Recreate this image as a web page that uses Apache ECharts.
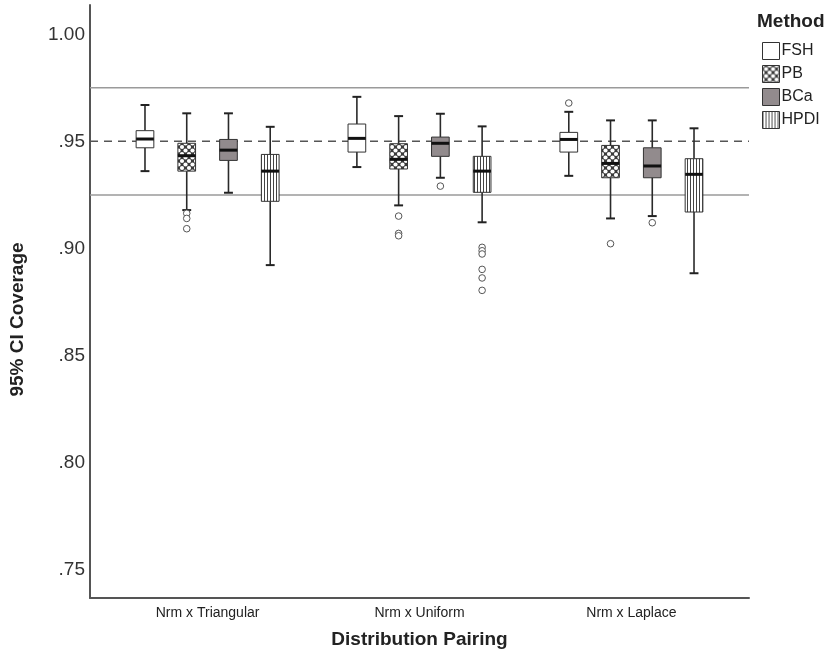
<!DOCTYPE html>
<html><head><meta charset="utf-8">
<script src="https://cdn.jsdelivr.net/npm/echarts@6/dist/echarts.min.js"></script>
<style>html,body{margin:0;padding:0;background:#fff}#c{width:828px;height:657px}</style>
</head><body><div id="c"></div>
<script>
// ---- data ----
const categories = ['Nrm x Triangular', 'Nrm x Uniform', 'Nrm x Laplace'];
const methods = ['FSH', 'PB', 'BCa', 'HPDI'];
const yTicks = [0.75, 0.80, 0.85, 0.90, 0.95, 1.00];
const refLines = [0.975, 0.95, 0.925];
// [min, Q1, median, Q3, max] per category
const statsFSH  = [[0.9361, 0.9470, 0.9511, 0.9550, 0.9670], [0.9380, 0.9450, 0.9514, 0.9581, 0.9708], [0.9339, 0.9450, 0.9509, 0.9542, 0.9638]];
const statsPB   = [[0.9179, 0.9361, 0.9433, 0.9491, 0.9631], [0.9201, 0.9371, 0.9416, 0.9489, 0.9618], [0.9140, 0.9330, 0.9397, 0.9481, 0.9598]];
const statsBCa  = [[0.9260, 0.9411, 0.9459, 0.9509, 0.9631], [0.9330, 0.9430, 0.9491, 0.9520, 0.9629], [0.9151, 0.9330, 0.9385, 0.9470, 0.9598]];
const statsHPDI = [[0.8922, 0.9220, 0.9361, 0.9439, 0.9568], [0.9122, 0.9262, 0.9361, 0.9430, 0.9570], [0.8884, 0.9170, 0.9346, 0.9419, 0.9561]];
// outliers: [categoryIndex, value]
const outFSH  = [[2, 0.9679]];
const outPB   = [[0, 0.9164], [0, 0.9140], [0, 0.9092], [1, 0.9151], [1, 0.9070], [1, 0.9059], [2, 0.9022]];
const outBCa  = [[1, 0.9291], [2, 0.9120]];
const outHPDI = [[1, 0.9005], [1, 0.8989], [1, 0.8974], [1, 0.8902], [1, 0.8862], [1, 0.8804]];

const allStats = [statsFSH, statsPB, statsBCa, statsHPDI];
const allOut = [outFSH, outPB, outBCa, outHPDI];

// ---- patterns ----
function tile(w, h, draw) {
  const c = document.createElement('canvas');
  c.width = w; c.height = h;
  draw(c.getContext('2d'));
  return { image: c, repeat: 'repeat' };
}
const patPB = tile(7, 7, g => {
  g.fillStyle = '#3a3a3a'; g.fillRect(0, 0, 7, 7);
  g.fillStyle = '#ffffff';
  [[0,0],[7,0],[0,7],[7,7],[3.5,3.5]].forEach(p => { g.beginPath(); g.arc(p[0], p[1], 2.1, 0, Math.PI*2); g.fill(); });
});
const patHPDI = tile(3, 4, g => {
  g.fillStyle = '#ffffff'; g.fillRect(0, 0, 3, 4);
  g.fillStyle = '#444'; g.fillRect(0, 0, 1, 4);
});
const fills = ['#ffffff', patPB, '#928b8d', patHPDI];

const FONT = "'Liberation Sans', Arial, sans-serif";

function boxRender(m) {
  return function (params, api) {
    const ci = api.value(0);
    const unit = api.size([1, 0], [ci, 0.9])[0];
    const xc = api.coord([ci, 0.9])[0] + (m - 1.5) * 0.197 * unit;
    const y = k => api.coord([ci, api.value(k)])[1];
    const yMin = y(1), yQ1 = y(2), yMed = y(3), yQ3 = y(4), yMax = y(5);
    const bw = 0.0835 * unit, cw = 0.042 * unit;
    const ws = { stroke: '#2a2a2a', lineWidth: 1.6 };
    return { type: 'group', children: [
      { type: 'line', shape: { x1: xc, y1: yMax, x2: xc, y2: yQ3 }, style: ws },
      { type: 'line', shape: { x1: xc, y1: yQ1, x2: xc, y2: yMin }, style: ws },
      { type: 'line', shape: { x1: xc - cw / 2, y1: yMax, x2: xc + cw / 2, y2: yMax }, style: { stroke: '#222', lineWidth: 2 } },
      { type: 'line', shape: { x1: xc - cw / 2, y1: yMin, x2: xc + cw / 2, y2: yMin }, style: { stroke: '#222', lineWidth: 2 } },
      { type: 'rect', shape: { x: xc - bw / 2, y: yQ3, width: bw, height: yQ1 - yQ3 }, style: { fill: fills[m], stroke: '#333', lineWidth: 1 } },
      { type: 'line', shape: { x1: xc - bw / 2, y1: yMed, x2: xc + bw / 2, y2: yMed }, style: { stroke: '#111', lineWidth: 3 } }
    ] };
  };
}
function outRender(m) {
  return function (params, api) {
    const ci = api.value(0);
    const unit = api.size([1, 0], [ci, 0.9])[0];
    const p = api.coord([ci, api.value(1)]);
    return { type: 'circle', shape: { cx: p[0] + (m - 1.5) * 0.197 * unit, cy: p[1], r: 3.3 }, style: { fill: '#fff', stroke: '#555', lineWidth: 1 } };
  };
}
function refRender(params, api) {
  const cs = params.coordSys;
  const yv = api.coord([0, api.value(0)])[1];
  const dashed = params.dataIndex === 1;
  return { type: 'line', shape: { x1: cs.x, y1: yv, x2: cs.x + cs.width, y2: yv },
    style: dashed ? { stroke: '#555', lineWidth: 1.5, lineDash: [8, 6] } : { stroke: '#9a9a9a', lineWidth: 1.5 } };
}

const series = [{
  name: 'ref', type: 'custom', z: 1, silent: true, renderItem: refRender,
  encode: { y: 0 }, data: refLines.map(v => [v])
}];
methods.forEach((name, m) => {
  series.push({
    name: name, type: 'custom', z: 3, renderItem: boxRender(m),
    itemStyle: { color: fills[m], borderColor: '#333', borderWidth: 1 },
    encode: { x: 0, y: [1, 2, 3, 4, 5] },
    data: allStats[m].map((s, ci) => [ci].concat(s))
  });
  series.push({
    name: name + ' outliers', type: 'custom', z: 3, renderItem: outRender(m), silent: true,
    encode: { x: 0, y: 1 },
    data: allOut[m]
  });
});

const chart = echarts.init(document.getElementById('c'), null, { renderer: 'canvas' });
chart.setOption({
  animation: false,
  backgroundColor: '#fff',
  textStyle: { fontFamily: FONT },
  title: { text: 'Method', left: 752, top: 7, textStyle: { fontFamily: FONT, fontSize: 19, fontWeight: 'bold', color: '#222' } },
  legend: {
    orient: 'vertical', left: 757, top: 37, itemWidth: 17, itemHeight: 17, itemGap: 5, icon: 'rect',
    textStyle: { fontFamily: FONT, fontSize: 16, color: '#222', padding: [0, 0, 0, -3] },
    data: methods.map((n, m) => ({ name: n, itemStyle: { color: fills[m], borderColor: '#333', borderWidth: 1 } }))
  },
  grid: { left: 89, right: 79, top: 5, bottom: 59, containLabel: false },
  xAxis: {
    type: 'value', min: -0.555, max: 2.555,
    axisLine: { show: true, onZero: false, lineStyle: { color: '#555', width: 2 } },
    axisTick: { show: false }, splitLine: { show: false },
    axisLabel: { customValues: categories.map((c, i) => i), formatter: v => categories[Math.round(v)], fontFamily: FONT, fontSize: 14, color: '#222', margin: 8 },
    name: 'Distribution Pairing', nameLocation: 'middle', nameGap: 32,
    nameTextStyle: { fontFamily: FONT, fontSize: 19, fontWeight: 'bold', color: '#222' }
  },
  yAxis: {
    type: 'value', min: 0.7367, max: 1.0137,
    axisLine: { show: true, onZero: false, lineStyle: { color: '#555', width: 2 } },
    axisTick: { show: false }, splitLine: { show: false },
    axisLabel: { customValues: yTicks, formatter: v => { const s = v.toFixed(2); return v < 1 ? s.replace(/^0/, '') : s; }, fontFamily: FONT, fontSize: 19, color: '#333', margin: 5 },
    name: '95% CI Coverage', nameLocation: 'middle', nameGap: 63, nameRotate: 90,
    nameTextStyle: { fontFamily: FONT, fontSize: 19, fontWeight: 'bold', color: '#222', padding: [0, 36, 0, 0] }
  },
  series: series
});
</script>
</body></html>
